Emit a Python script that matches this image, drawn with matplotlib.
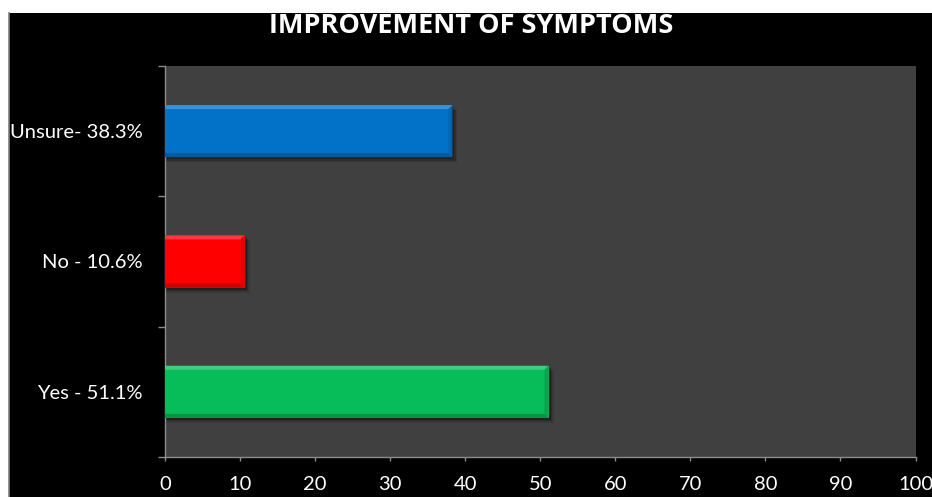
import matplotlib
matplotlib.use("Agg")
import matplotlib.pyplot as plt
from matplotlib.patches import Rectangle, Polygon
import matplotlib.colors as mcolors

# Survey results
categories = ["Yes - 51.1%", "No - 10.6%", "Unsure- 38.3%"]
values = [51.1, 10.6, 38.3]
bar_colors = ["#07BD5A", "#FF0000", "#0272C9"]
x_ticks = [0, 10, 20, 30, 40, 50, 60, 70, 80, 90, 100]

plt.rcParams["font.family"] = ["Lato", "DejaVu Sans"]

W, H = 932, 497
fig = plt.figure(figsize=(W / 100, H / 100), dpi=100, facecolor="black")

ax = fig.add_axes([165 / W, 40 / H, 750.5 / W, 391 / H])
ax.set_facecolor("#404040")
ax.set_xlim(0, 100)
ax.set_ylim(-0.5, 2.5)

bar_h = 0.4
px_y = 1.0 / 130.3      # data units per pixel vertically
px_x = 100 / 750.5      # data units per pixel horizontally


def shade(color, f):
    r, g, b = mcolors.to_rgb(color)
    if f >= 0:
        return (r + (1 - r) * f, g + (1 - g) * f, b + (1 - b) * f)
    return (r * (1 + f), g * (1 + f), b * (1 + f))


for i, (v, c) in enumerate(zip(values, bar_colors)):
    y0 = i - bar_h / 2
    y1 = i + bar_h / 2
    # soft drop shadow
    for k, a in [(5, 0.12), (3.5, 0.18), (2, 0.25)]:
        ax.add_patch(Rectangle((0, y0 - k * px_y), v + k * px_x, bar_h,
                               facecolor="black", alpha=a, edgecolor="none", zorder=2))
    ax.barh(i, v, height=bar_h, color=c, edgecolor="none", zorder=3)
    bev_y = 4 * px_y
    bev_x = 4 * px_x
    # bevelled edges
    ax.add_patch(Polygon([(0, y1), (v, y1), (v - bev_x, y1 - bev_y), (0, y1 - bev_y)],
                         closed=True, facecolor=shade(c, 0.22), edgecolor="none", zorder=4))
    ax.add_patch(Polygon([(0, y0), (v, y0), (v - bev_x, y0 + bev_y), (0, y0 + bev_y)],
                         closed=True, facecolor=shade(c, -0.22), edgecolor="none", zorder=4))
    ax.add_patch(Polygon([(v, y0), (v, y1), (v - bev_x, y1 - bev_y), (v - bev_x, y0 + bev_y)],
                         closed=True, facecolor=shade(c, -0.12), edgecolor="none", zorder=4))

for side in ["top", "right"]:
    ax.spines[side].set_visible(False)
for side in ["left", "bottom"]:
    ax.spines[side].set_color("#8c8c8c")
    ax.spines[side].set_linewidth(1.0)

ax.set_xticks(x_ticks)
ax.set_xticklabels([str(t) for t in x_ticks])
ax.tick_params(axis="x", colors="#8c8c8c", length=3, width=1.0, labelcolor="white",
               labelsize=14.5, pad=11)

ax.set_yticks([-0.5, 0.5, 1.5, 2.5])
ax.set_yticklabels([])
ax.set_yticks([0, 1, 2], minor=True)
ax.set_yticklabels(categories, minor=True)
ax.tick_params(axis="y", which="major", colors="#8c8c8c", length=5, width=1.0)
ax.tick_params(axis="y", which="minor", length=0, labelcolor="white", labelsize=14.5, pad=16)

fig.text(471 / W, 1 - 33 / H, "IMPROVEMENT OF SYMPTOMS", color="white", fontsize=19.5,
         fontweight="bold", family=["Open Sans", "DejaVu Sans"], ha="center", va="baseline")

# white margins along the top and left edges, with a thin grey border line
fig.patches.append(Rectangle((0, 1 - 13 / H), 1, 13 / H, transform=fig.transFigure,
                             facecolor="white", edgecolor="none", zorder=10))
fig.patches.append(Rectangle((0, 0), 9 / W, 1, transform=fig.transFigure,
                             facecolor="white", edgecolor="none", zorder=10))
fig.lines.append(plt.Line2D([9 / W, 9 / W], [0, 1 - 13 / H], transform=fig.transFigure,
                            color="#7f7f7f", lw=1.2, zorder=11))
fig.savefig("out.png", dpi=100, facecolor="black")
